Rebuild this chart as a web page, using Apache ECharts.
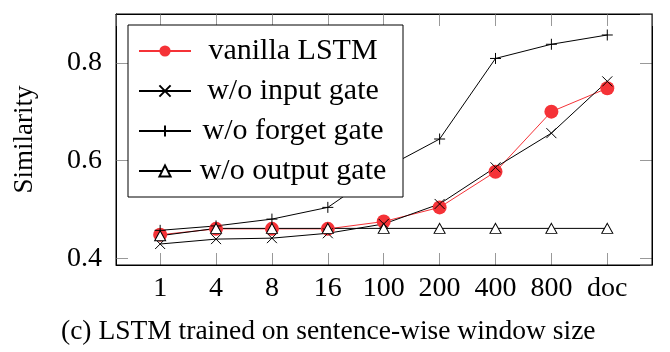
<!DOCTYPE html>
<html>
<head>
<meta charset="utf-8">
<script src="https://cdn.jsdelivr.net/npm/echarts@6/dist/echarts.min.js"></script>
<style>html,body{margin:0;padding:0;background:#fff}#c{width:670px;height:352px}</style>
</head>
<body>
<div id="c"></div>
<script>
var categories = ['1', '4', '8', '16', '100', '200', '400', '800', 'doc'];
var vanillaLSTM = [0.448, 0.460, 0.460, 0.460, 0.475, 0.504, 0.577, 0.700, 0.748];
var noInputGate = [0.429, 0.439, 0.441, 0.451, 0.470, 0.511, 0.586, 0.656, 0.762];
var noForgetGate = [0.457, 0.466, 0.480, 0.504, 0.583, 0.644, 0.809, 0.838, 0.857];
var noOutputGate = [0.446, 0.461, 0.461, 0.461, 0.461, 0.461, 0.461, 0.461, 0.461];
var yTicks = [0.4, 0.6, 0.8];
var seriesNames = ['vanilla LSTM', 'w/o input gate', 'w/o forget gate', 'w/o output gate'];
var captionText = '(c) LSTM trained on sentence-wise window size';
var yAxisTitle = 'Similarity';

var FONT = 'Liberation Serif';
var RED = 'rgb(245,50,55)';
// category k is placed at x = k + 1 so the x range does not contain 0
function pairs(arr) { return arr.map(function (v, i) { return [i + 1, v]; }); }
function isTickY(v) { return yTicks.some(function (t) { return Math.abs(t - v) < 1e-6; }); }
function xLabel(v) {
  var r = Math.round(v);
  return (Math.abs(v - r) < 1e-6 && categories[r - 1] !== undefined) ? categories[r - 1] : '';
}
var tickStyle = { show: true, inside: true, length: 12, lineStyle: { color: '#999', width: 1 } };
var frameLine = { show: true, lineStyle: { color: '#000', width: 1 } };
var X_PATH = 'path://M0,0L10,10M10,0L0,10';
var PLUS_PATH = 'path://M5,0L5,10M0,5L10,5';
var X_MIN = 0.21, X_MAX = 9.8, Y_MIN = 0.386, Y_MAX = 0.9;

var chart = echarts.init(document.getElementById('c'), null, { renderer: 'canvas' });
chart.setOption({
  animation: false,
  backgroundColor: '#fff',
  textStyle: { fontFamily: FONT },
  title: {
    text: captionText,
    left: 61,
    top: 318,
    padding: 0,
    textStyle: { fontFamily: FONT, fontSize: 27.5, fontWeight: 'normal', color: '#000' }
  },
  grid: {
    left: 116, top: 14, right: 18, bottom: 87, z: 5,
    show: true, borderColor: '#000', borderWidth: 1, backgroundColor: 'transparent'
  },
  legend: {
    orient: 'vertical',
    left: 128, top: 25, z: 6,
    padding: [11, 13, 11, 10],
    backgroundColor: '#fff',
    borderColor: '#000', borderWidth: 1, borderRadius: 0,
    itemWidth: 52, itemHeight: 14, itemGap: 10,
    data: seriesNames,
    formatter: function (n) { return '{a|' + n + '}'; },
    textStyle: {
      rich: { a: { fontFamily: FONT, fontSize: 30, lineHeight: 28, width: 194, align: 'center', color: '#000' } }
    }
  },
  xAxis: [{
    type: 'value', min: X_MIN, max: X_MAX, minInterval: 1, maxInterval: 1, position: 'bottom',
    axisLine: frameLine, splitLine: { show: false },
    axisTick: tickStyle,
    axisLabel: {
      margin: 10, showMinLabel: false, showMaxLabel: false,
      fontFamily: FONT, fontSize: 28, color: '#000',
      formatter: xLabel
    }
  }, {
    type: 'value', min: X_MIN, max: X_MAX, minInterval: 1, maxInterval: 1, position: 'top',
    axisLine: frameLine, splitLine: { show: false },
    axisTick: tickStyle,
    axisLabel: { show: false }
  }],
  yAxis: [{
    type: 'value', min: Y_MIN, max: Y_MAX, minInterval: 0.2, maxInterval: 0.2, position: 'left',
    name: yAxisTitle, nameLocation: 'middle', nameRotate: 90, nameGap: 78,
    nameTextStyle: { fontFamily: FONT, fontSize: 27, color: '#000' },
    axisLine: frameLine, splitLine: { show: false },
    axisTick: tickStyle,
    axisLabel: {
      margin: 14, showMinLabel: false, showMaxLabel: false,
      fontFamily: FONT, fontSize: 28, color: '#000',
      formatter: function (v) { return isTickY(v) ? v.toFixed(1) : ''; }
    }
  }, {
    type: 'value', min: Y_MIN, max: Y_MAX, minInterval: 0.2, maxInterval: 0.2, position: 'right',
    axisLine: frameLine, splitLine: { show: false },
    axisTick: tickStyle,
    axisLabel: { show: false }
  }],
  series: [{
    name: seriesNames[0], type: 'line', data: pairs(vanillaLSTM),
    symbol: 'circle', symbolSize: 14,
    lineStyle: { color: RED, width: 1 },
    itemStyle: { color: RED, borderWidth: 0 }
  }, {
    name: seriesNames[1], type: 'line', data: pairs(noInputGate),
    symbol: X_PATH, symbolSize: 10,
    lineStyle: { color: '#000', width: 1 },
    itemStyle: { color: '#000', borderColor: '#000', borderWidth: 1 }
  }, {
    name: seriesNames[2], type: 'line', data: pairs(noForgetGate),
    symbol: PLUS_PATH, symbolSize: 11,
    lineStyle: { color: '#000', width: 1 },
    itemStyle: { color: '#000', borderColor: '#000', borderWidth: 1 }
  }, {
    name: seriesNames[3], type: 'line', data: pairs(noOutputGate),
    symbol: 'triangle', symbolSize: [11, 10],
    lineStyle: { color: '#000', width: 1 },
    itemStyle: { color: '#fff', borderColor: '#000', borderWidth: 1 }
  }]
});
</script>
</body>
</html>
